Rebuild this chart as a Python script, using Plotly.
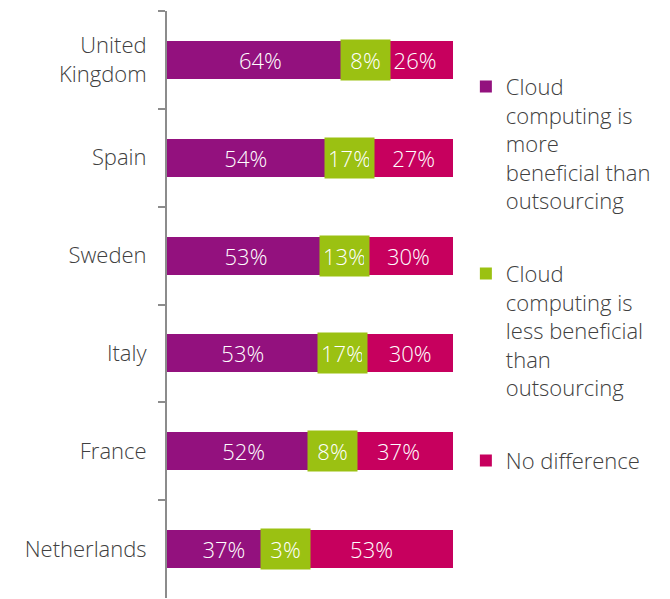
import plotly.graph_objects as go

PURPLE = "#93117e"
GREEN = "#9bc112"
PINK = "#c7005e"
TEXT = "#404040"
AXIS = "#8c8c8c"
FONT = "'Open Sans', Lato, sans-serif"

countries = ["United<br>Kingdom", "Spain", "Sweden", "Italy", "France", "Netherlands"]
more_beneficial = [64, 54, 53, 53, 52, 37]
less_beneficial = [8, 17, 13, 17, 8, 3]
no_difference = [26, 27, 30, 30, 37, 53]

series = [
    ("Cloud<br>computing is<br>more<br>beneficial than<br>outsourcing", more_beneficial, PURPLE),
    ("Cloud<br>computing is<br>less beneficial<br>than<br>outsourcing", less_beneficial, GREEN),
    ("No difference", no_difference, PINK),
]

fig = go.Figure()
for i, (name, vals, color) in enumerate(series):
    show_text = color != GREEN
    fig.add_trace(
        go.Bar(
            name=name,
            y=countries,
            x=vals,
            orientation="h",
            marker=dict(color=color, line=dict(width=0)),
            text=[f"{v}%" for v in vals] if show_text else None,
            textposition="inside",
            insidetextanchor="middle",
            textfont=dict(color="white", size=22, family=FONT, weight=300),
            legendgroup=f"g{i}",
            hoverinfo="skip",
        )
    )

# green labels sit on a green box centred on the (narrow) green segment
for c, p, g, n in zip(countries, more_beneficial, less_beneficial, no_difference):
    total = p + g + n
    fig.add_annotation(
        x=(p + g / 2) / total * 100,
        y=c,
        text=f"{g}%",
        showarrow=False,
        font=dict(color="white", size=22, family=FONT, weight=300),
        bgcolor=GREEN,
        borderpad=5,
        width=39,
    )

# page body adds ~8px margin, so the figure is 8px smaller than the window
fig.update_layout(
    width=662,
    height=591,
    barmode="stack",
    barnorm="percent",
    bargap=0.61,
    margin=dict(l=159, r=217, t=3, b=1),
    plot_bgcolor="white",
    paper_bgcolor="white",
    font=dict(family=FONT, color=TEXT, size=22, weight=300),
    xaxis=dict(visible=False, range=[0, 100], fixedrange=True, automargin=False),
    yaxis=dict(
        autorange="reversed",
        automargin=False,
        showline=True,
        linecolor=AXIS,
        linewidth=2,
        ticks="outside",
        tickson="boundaries",
        ticklen=7,
        tickwidth=2,
        tickcolor=AXIS,
        ticklabelstandoff=14,
        tickfont=dict(size=22, color=TEXT, family=FONT, weight=300),
        showgrid=False,
        zeroline=False,
        fixedrange=True,
    ),
    legend=dict(
        x=1.045,
        xanchor="left",
        y=0.907,
        yanchor="top",
        traceorder="grouped",
        tracegroupgap=41,
        valign="top",
        itemwidth=30,
        font=dict(size=22, color=TEXT, family=FONT, weight=300),
        bgcolor="rgba(0,0,0,0)",
    ),
    showlegend=True,
)

fig.write_html("out.html")
